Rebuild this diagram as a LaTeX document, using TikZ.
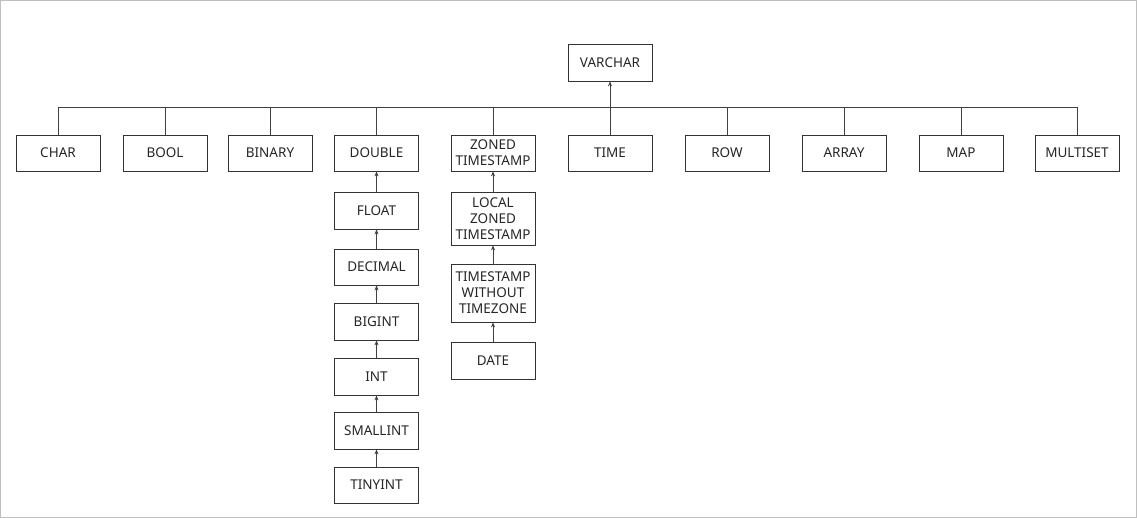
\documentclass[tikz,border=0pt]{standalone}
\usepackage{fontspec}
\setmainfont{Noto Sans}
\usetikzlibrary{arrows.meta}
\begin{document}
\begin{tikzpicture}[x=1pt,y=-1pt,
  box/.style={draw=black!80,line width=0.8pt,minimum width=84pt,inner sep=1pt,align=center,font=\fontsize{13.5}{16}\selectfont,text=black!85},
  conn/.style={draw=black!75,line width=0.8pt},
  arr/.style={conn,-{Stealth[length=5pt,width=4pt]}}]
\draw[black!25,line width=1pt,fill=white] (0.5,0.5) rectangle (1136.5,517.5);
\useasboundingbox (0,0) rectangle (1137,518);
% top
\node[box,minimum height=37pt] (varchar) at (610,62.5) {VARCHAR};
% row
\foreach \n/\t/\x in {char/CHAR/58, bool/BOOL/165, binary/BINARY/270, double/DOUBLE/376.5, time/TIME/610, row/ROW/727, array/ARRAY/844, map/MAP/961, multiset/MULTISET/1077}
  \node[box,minimum height=36pt] (\n) at (\x,153) {\t};
\node[box,minimum height=36pt] (zts) at (493,153) {ZONED\\TIMESTAMP};
% double column
\node[box,minimum height=37pt] (float) at (376.5,210.5) {FLOAT};
\node[box,minimum height=36pt] (decimal) at (376.5,267) {DECIMAL};
\node[box,minimum height=37pt] (bigint) at (376.5,321.5) {BIGINT};
\node[box,minimum height=37pt] (int) at (376.5,376.5) {INT};
\node[box,minimum height=37pt] (smallint) at (376.5,430.5) {SMALLINT};
\node[box,minimum height=36pt] (tinyint) at (376.5,485) {TINYINT};
% timestamp column
\node[box,minimum height=53pt] (lzts) at (493,218.5) {LOCAL\\ZONED\\TIMESTAMP};
\node[box,minimum height=58pt] (tswtz) at (493,293) {TIMESTAMP\\WITHOUT\\TIMEZONE};
\node[box,minimum height=37pt] (date) at (493,360.5) {DATE};
% bus
\coordinate (busL) at (58,107);
\coordinate (busR) at (1077,107);
\draw[conn] (char.north) -- (char.north |- busL) -- (multiset.north |- busR) -- (multiset.north);
\foreach \n in {bool,binary,double,zts,row,array,map}
  \draw[conn] (\n.north) -- (\n.north |- busL);
\draw[arr] (time.north) -- (varchar.south);
% chains
\draw[arr] (float.north) -- (double.south);
\draw[arr] (decimal.north) -- (float.south);
\draw[arr] (bigint.north) -- (decimal.south);
\draw[arr] (int.north) -- (bigint.south);
\draw[arr] (smallint.north) -- (int.south);
\draw[arr] (tinyint.north) -- (smallint.south);
\draw[arr] (lzts.north) -- (zts.south);
\draw[arr] (tswtz.north) -- (lzts.south);
\draw[arr] (date.north) -- (tswtz.south);
\end{tikzpicture}
\end{document}
